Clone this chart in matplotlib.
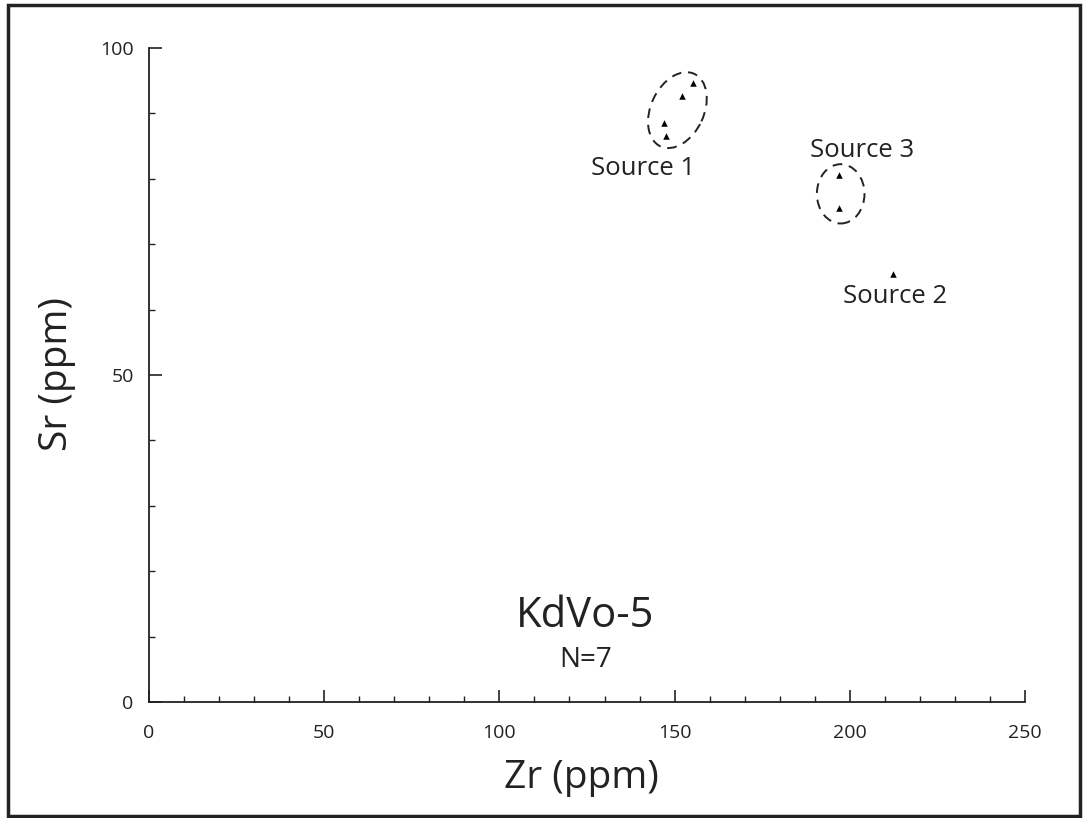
import matplotlib
matplotlib.use("Agg")
import matplotlib.pyplot as plt
from matplotlib.patches import Ellipse, Rectangle
from matplotlib import transforms
from matplotlib.ticker import MultipleLocator

plt.rcParams['font.family'] = ['Open Sans', 'DejaVu Sans']

# ---- data ----
zr = [155.2, 152.0, 147.1, 147.5, 197.0, 197.0, 212.4]
sr = [94.6, 92.6, 88.6, 86.5, 80.6, 75.5, 65.5]

source_names = ["Source 1", "Source 3", "Source 2"]
source_label_x = [141.0, 203.5, 212.9]
source_label_y = [80.6, 83.4, 61.0]

xticks = [0, 50, 100, 150, 200, 250]
yticks = [0, 50, 100]

title_text = "KdVo-5"
n_text = "N=7"

fig = plt.figure(figsize=(10.83, 8.18), dpi=100)
ax = fig.add_axes([149 / 1083, 116 / 818, 876 / 1083, 654 / 818])

ax.set_xlim(0, 250)
ax.set_ylim(0, 100)
ax.set_xticks(xticks)
ax.set_yticks(yticks)
ax.xaxis.set_minor_locator(MultipleLocator(10))
ax.yaxis.set_minor_locator(MultipleLocator(10))
for s in ['top', 'right']:
    ax.spines[s].set_visible(False)
for s in ['left', 'bottom']:
    ax.spines[s].set_linewidth(1.3)
    ax.spines[s].set_color('#222222')
ax.tick_params(which='major', direction='in', length=9, width=1.2, color='#222222',
               labelsize=14, labelcolor='#222222')
ax.tick_params(which='minor', direction='in', length=4.5, width=1.0, color='#222222')
ax.tick_params(axis='x', which='major', pad=16)
ax.tick_params(axis='y', which='major', pad=11)

ax.scatter(zr, sr, marker='^', s=22, color='black', zorder=3, linewidths=0)

# dashed ellipses around groups (sizes in inches on screen)
ell_specs = [((150.8, 90.5), 0.80, 0.53, 65), ((197.4, 77.7), 0.476, 0.593, 0)]
for (cx, cy), w, h, ang in ell_specs:
    tr = fig.dpi_scale_trans + transforms.ScaledTranslation(cx, cy, ax.transData)
    e = Ellipse((0, 0), w, h, angle=ang, transform=tr, fill=False,
                edgecolor='#222222', linewidth=1.4, linestyle=(0, (5, 3.5)))
    ax.add_patch(e)

for name, lx, ly in zip(source_names, source_label_x, source_label_y):
    ax.text(lx, ly, name, ha='center', va='baseline', fontsize=18.5, color='#222222')

ax.text(124.4, 11.5, title_text, ha='center', va='baseline', fontsize=30, color='#222222')
ax.text(124.7, 5.4, n_text, ha='center', va='baseline', fontsize=20, color='#222222')

ax.set_xlabel("Zr (ppm)", fontsize=28, color='#222222', va='baseline')
ax.xaxis.set_label_coords(0.494, -0.1315)
ax.set_ylabel("Sr (ppm)", fontsize=28, color='#222222', va='center', ha='center')
ax.yaxis.set_label_coords(-0.105, 0.5015)

# outer frame
fig.patches.append(Rectangle((8 / 1083, 2 / 818), 1072 / 1083, 811 / 818,
                             transform=fig.transFigure, fill=False,
                             edgecolor='#222222', linewidth=2.5))

fig.savefig("out.png", dpi=100)
